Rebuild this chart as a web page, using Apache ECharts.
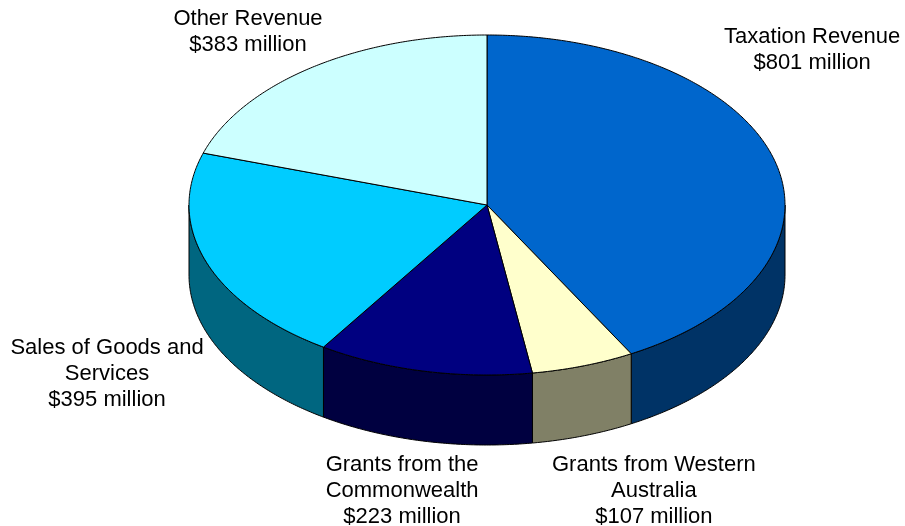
<!DOCTYPE html>
<html>
<head>
<meta charset="utf-8">
<script src="https://cdn.jsdelivr.net/npm/echarts@6/dist/echarts.min.js"></script>
<style>
  html, body { margin: 0; padding: 0; background: #ffffff; }
  #chart { width: 905px; height: 526px; }
</style>
</head>
<body>
<div id="chart"></div>
<script>
// Revenue sources, in drawing order (clockwise from 12 o'clock)
const categories = [
  'Taxation Revenue',
  'Grants from Western Australia',
  'Grants from the Commonwealth',
  'Sales of Goods and Services',
  'Other Revenue'
];
const values = [801, 107, 223, 395, 383];   // $ million
const labelNameLines = [
  ['Taxation Revenue'],
  ['Grants from Western', 'Australia'],
  ['Grants from the', 'Commonwealth'],
  ['Sales of Goods and', 'Services'],
  ['Other Revenue']
];

// Slice colours: top face and darker side wall
const topColors  = ['#0066CC', '#FFFFCC', '#000080', '#00CCFF', '#CCFFFF'];
const sideColors = ['#003366', '#808066', '#000040', '#006680', '#668080'];

// Tilted disc geometry (pixels)
const CX = 487, CY = 205, RX = 298, RY = 170, DEPTH = 70;
// Label block centres, in units of the disc radii from the centre
const labelAnchor = [
  [1.091, -0.915],
  [0.560, 1.682],
  [-0.285, 1.682],
  [-1.275, 0.994],
  [-0.802, -1.018]
];

const total = values.reduce((s, v) => s + v, 0);
const startAngles = [];
(function () {
  let acc = 0;
  values.forEach(v => { startAngles.push(acc / total * Math.PI * 2); acc += v; });
})();

function pt(theta, dy) {
  return [CX + RX * Math.sin(theta), CY - RY * Math.cos(theta) + (dy || 0)];
}
function arc(a, b, dy) {
  const n = Math.max(2, Math.ceil(Math.abs(b - a) / (Math.PI / 360)));
  const pts = [];
  for (let i = 0; i <= n; i++) pts.push(pt(a + (b - a) * i / n, dy));
  return pts;
}
function sliceRange(idx, api) {
  const v = api.value(0);
  const a = startAngles[idx];
  return [a, a + v / total * Math.PI * 2];
}

const seriesData = values.map((v, i) => ({ name: categories[i], value: v }));
const textFont = '"Liberation Sans", Arial, sans-serif';

const chart = echarts.init(document.getElementById('chart'), null, { renderer: 'canvas' });
chart.setOption({
  backgroundColor: '#ffffff',
  animation: false,
  tooltip: { show: false },
  series: [
    {
      // visible front wall of each slice
      type: 'custom',
      coordinateSystem: 'none',
      z: 1,
      silent: true,
      data: seriesData,
      renderItem: function (params, api) {
        const idx = params.dataIndex;
        const r = sliceRange(idx, api);
        const a = Math.max(r[0], Math.PI / 2);
        const b = Math.min(r[1], Math.PI * 1.5);
        if (b <= a) return { type: 'group', children: [] };
        const pts = arc(a, b, 0).concat(arc(b, a, DEPTH));
        return {
          type: 'polygon',
          shape: { points: pts },
          style: { fill: sideColors[idx], stroke: '#000000', lineWidth: 1, lineJoin: 'round' }
        };
      }
    },
    {
      // top face of each slice plus its label
      type: 'custom',
      coordinateSystem: 'none',
      z: 2,
      silent: true,
      data: seriesData,
      renderItem: function (params, api) {
        const idx = params.dataIndex;
        const r = sliceRange(idx, api);
        const pts = [[CX, CY]].concat(arc(r[0], r[1], 0));
        const text = labelNameLines[idx].concat(['$' + api.value(0) + ' million']).join('\n');
        return {
          type: 'group',
          children: [
            {
              type: 'polygon',
              shape: { points: pts },
              style: { fill: topColors[idx], stroke: '#000000', lineWidth: 1, lineJoin: 'round' }
            },
            {
              type: 'text',
              x: CX + labelAnchor[idx][0] * RX,
              y: CY + labelAnchor[idx][1] * RY,
              style: {
                text: text,
                fill: '#000000',
                fontSize: 22,
                fontFamily: textFont,
                align: 'center',
                verticalAlign: 'middle',
                lineHeight: 26
              }
            }
          ]
        };
      }
    }
  ]
});
</script>
</body>
</html>
